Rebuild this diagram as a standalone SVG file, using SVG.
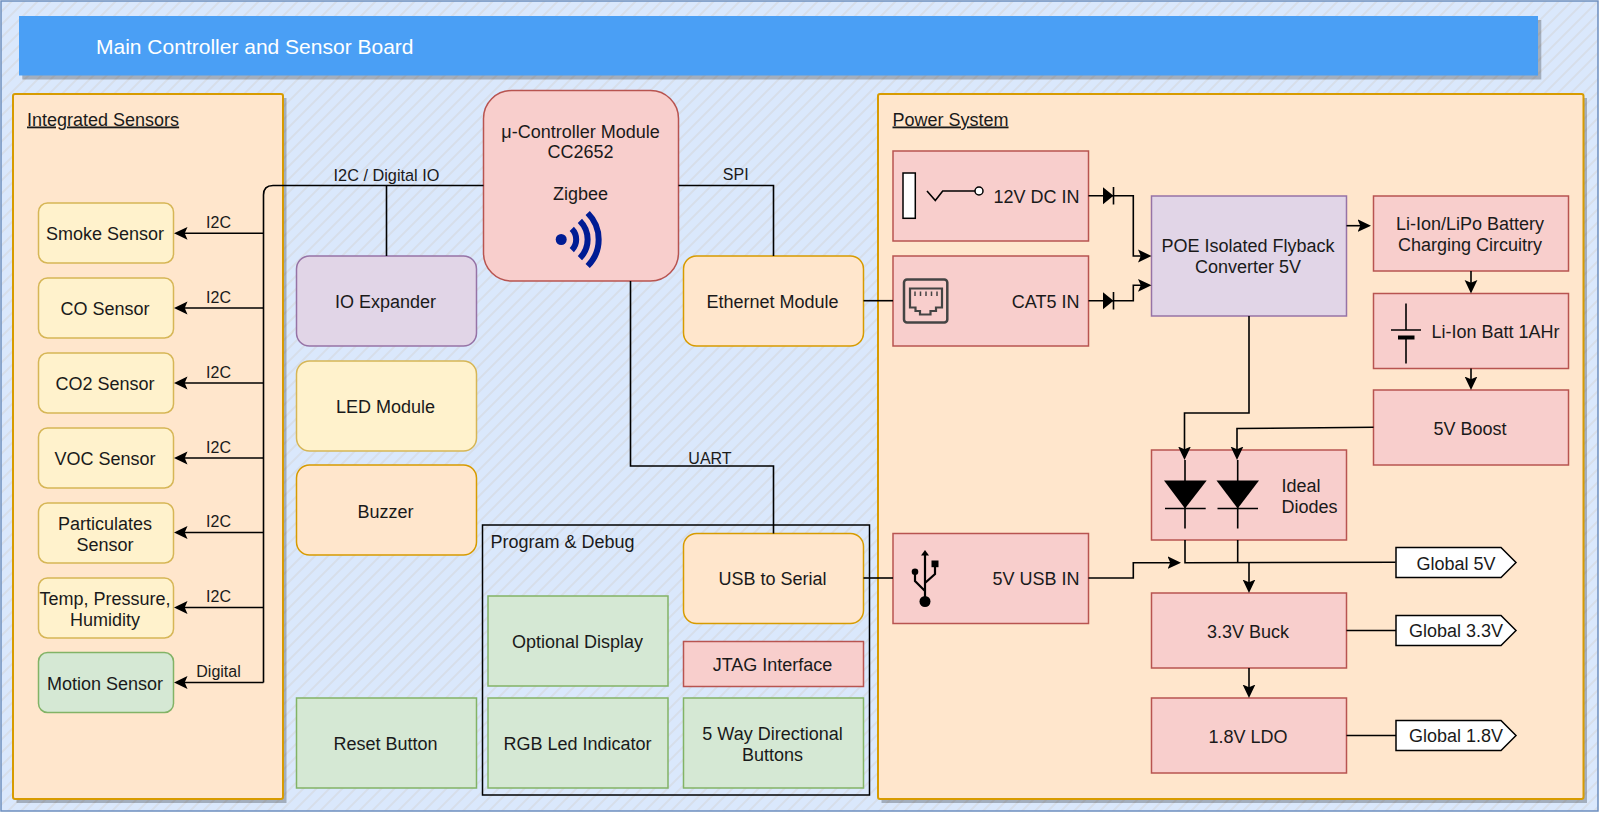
<svg xmlns="http://www.w3.org/2000/svg" width="1599" height="813" viewBox="0 0 1599 813">
<style>
text{font-family:"Liberation Sans",Arial,sans-serif;font-size:18px;fill:#1a1a1a;text-anchor:middle}
.s{font-size:16px}
.l{text-anchor:start}
.e{text-anchor:end}
.u{text-decoration:underline}
.shadow{fill:#000;opacity:.25}
.or{fill:#ffe6cc;stroke:#d79b00;stroke-width:1.5}
.ye{fill:#fff2cc;stroke:#d6b656;stroke-width:1.5}
.re{fill:#f8cecc;stroke:#b85450;stroke-width:1.5}
.pu{fill:#e1d5e7;stroke:#9673a6;stroke-width:1.5}
.gr{fill:#d5e8d4;stroke:#82b366;stroke-width:1.5}
.w{fill:none;stroke:#000;stroke-width:1.6}
.a{marker-end:url(#arrow)}
.ic{fill:#000;stroke:none}
</style>
<defs>
<pattern id="hatch" patternUnits="userSpaceOnUse" width="13" height="13">
<rect width="13" height="13" fill="#dae8fc"/>
<path d="M-2 2L2-2M-2 15L15-2M11 15L15 11" stroke="#d7dee9" stroke-width="1.800" fill="none"/>
</pattern>
<marker id="arrow" markerUnits="userSpaceOnUse" markerWidth="15" markerHeight="15" viewBox="0 0 15 15" refX="10.500" refY="7.500" orient="auto">
<path d="M13.500 7.500L0 1.100L2.800 7.500L0 13.900Z" fill="#000"/>
</marker>
<path id="diode" d="M0-8.500L10.500 0L0 8.500Z" fill="#000"/>
</defs>
<g id="background">
<rect x="1" y="1" width="1597" height="810" fill="url(#hatch)" stroke="#6c8ebf" stroke-width="1.500"/>
</g>
<g id="title">
<rect class="shadow" x="22.300" y="20" width="1519" height="59.500"/>
<rect x="19" y="16" width="1519" height="59.500" fill="#4a9ff5"/>
<text class="l" x="96" y="54" style="font-size:21px;fill:#fff">Main Controller and Sensor Board</text>
</g>
<g id="integrated-sensors">
<rect class="shadow" x="16.500" y="98" width="270" height="705"/>
<rect class="or" x="13" y="94" width="270" height="705" rx="2" style="stroke-width:2"/>
<text class="l u" x="27" y="125.500">Integrated Sensors</text>
</g>
<g id="power-system">
<rect class="shadow" x="881.500" y="98" width="705.500" height="705"/>
<rect class="or" x="878" y="94" width="705.500" height="705" rx="2" style="stroke-width:2"/>
<text class="l u" x="892.500" y="125.500">Power System</text>
</g>
<g id="smoke"><rect class="ye" x="38.500" y="203" width="135" height="60" rx="9"/><text x="105" y="240">Smoke Sensor</text></g>
<g id="co"><rect class="ye" x="38.500" y="278" width="135" height="60" rx="9"/><text x="105" y="315">CO Sensor</text></g>
<g id="co2"><rect class="ye" x="38.500" y="353" width="135" height="60" rx="9"/><text x="105" y="390">CO2 Sensor</text></g>
<g id="voc"><rect class="ye" x="38.500" y="428" width="135" height="60" rx="9"/><text x="105" y="465">VOC Sensor</text></g>
<g id="particulates"><rect class="ye" x="38.500" y="503" width="135" height="60" rx="9"/><text x="105" y="529.500">Particulates<tspan x="105" dy="21">Sensor</tspan></text></g>
<g id="temp"><rect class="ye" x="38.500" y="578" width="135" height="60" rx="9"/><text x="105" y="605">Temp, Pressure,<tspan x="105" dy="21">Humidity</tspan></text></g>
<g id="motion"><rect class="gr" x="38.500" y="652.500" width="135" height="60" rx="9"/><text x="105" y="689.500">Motion Sensor</text></g>
<g id="controller">
<rect class="re" x="483.500" y="90.500" width="195" height="190.500" rx="28"/>
<text x="580.500" y="137.500">μ-Controller Module<tspan x="580.500" dy="20.500">CC2652</tspan><tspan x="580.500" dy="41.500">Zigbee</tspan></text>
<circle cx="561.200" cy="239.500" r="5.500" fill="#001c94"/>
<path d="M571.800 228.900A15 15 0 0 1 571.800 250.100M579.900 220.800A26.500 26.500 0 0 1 579.900 258.200M587.700 213A37.500 37.500 0 0 1 587.700 266" fill="none" stroke="#001c94" stroke-width="6"/>
</g>
<g id="io-expander"><rect class="pu" x="296.500" y="256" width="180" height="90" rx="13"/><text x="385.500" y="308">IO Expander</text></g>
<g id="led-module"><rect class="ye" x="296.500" y="361" width="180" height="90" rx="13"/><text x="385.500" y="412.500">LED Module</text></g>
<g id="buzzer"><rect class="or" x="296.500" y="465" width="180" height="90" rx="13"/><text x="385.500" y="518">Buzzer</text></g>
<g id="reset"><rect class="gr" x="296.500" y="698" width="180" height="90"/><text x="385.500" y="750">Reset Button</text></g>
<g id="ethernet"><rect class="or" x="683.500" y="256" width="180" height="90" rx="13"/><text x="772.500" y="308">Ethernet Module</text></g>
<g id="program-debug">
<rect x="482.500" y="525" width="387" height="270" fill="none" stroke="#000" stroke-width="1.500"/>
<text class="l" x="490.500" y="547.500">Program &amp; Debug</text>
</g>
<g id="usb-serial"><rect class="or" x="683.500" y="533.500" width="180" height="90" rx="13"/><text x="772.500" y="584.500">USB to Serial</text></g>
<g id="display"><rect class="gr" x="488" y="596" width="180" height="90"/><text x="577.500" y="648">Optional Display</text></g>
<g id="jtag"><rect class="re" x="683.500" y="641.500" width="180" height="45"/><text x="772.500" y="671">JTAG Interface</text></g>
<g id="rgb"><rect class="gr" x="488" y="698" width="180" height="90"/><text x="577.500" y="750">RGB Led Indicator</text></g>
<g id="buttons"><rect class="gr" x="683.500" y="698" width="180" height="90"/><text x="772.500" y="740">5 Way Directional<tspan x="772.500" dy="21">Buttons</tspan></text></g>
<g id="dc-in">
<rect class="re" x="893" y="151" width="195.500" height="90"/>
<rect x="903" y="173" width="12.300" height="45.300" fill="#fff" stroke="#000" stroke-width="1.500"/>
<path class="w" d="M927 191L935.300 200.500L942.700 191H975"/>
<circle cx="979" cy="191" r="4" fill="#fff" stroke="#000" stroke-width="1.500"/>
<text class="e" x="1079.500" y="202.500">12V DC IN</text>
</g>
<g id="cat5-in">
<rect class="re" x="893" y="256" width="195.500" height="90"/>
<rect x="904" y="279.500" width="43.300" height="43" rx="3" fill="none" stroke="#444" stroke-width="2.500"/>
<path d="M910 288.500H942V307.500H936V311H930.500V314.500H920V311H915.500V307.500H910Z" fill="none" stroke="#444" stroke-width="2.200"/>
<path d="M915 291.500V296M920.500 291.500V296M926 291.500V296M931.500 291.500V296M937 291.500V296" fill="none" stroke="#444" stroke-width="1.500"/>
<text class="e" x="1079.500" y="307.500">CAT5 IN</text>
</g>
<g id="usb-in">
<rect class="re" x="893" y="533.500" width="195.500" height="90"/>
<circle class="ic" cx="925" cy="601.500" r="5.500"/>
<path class="ic" d="M925 550L929 555.500H921Z"/>
<circle class="ic" cx="915" cy="571.700" r="3.300"/>
<rect class="ic" x="931.500" y="560.500" width="7" height="6.700"/>
<path d="M925 554V601M915 572V581L925 591M935 566V574L925 583" fill="none" stroke="#000" stroke-width="2.200"/>
<text class="e" x="1079.500" y="584.500">5V USB IN</text>
</g>
<g id="poe"><rect class="pu" x="1151.500" y="196" width="195" height="120"/><text x="1248" y="252">POE Isolated Flyback<tspan x="1248" dy="21">Converter 5V</tspan></text></g>
<g id="charger"><rect class="re" x="1373.500" y="196" width="195" height="75"/><text x="1470" y="230">Li-Ion/LiPo Battery<tspan x="1470" dy="21">Charging Circuitry</tspan></text></g>
<g id="battery">
<rect class="re" x="1373.500" y="293.500" width="195" height="75"/>
<path class="w" d="M1406 303.500V330M1391 330H1421M1406 339V363.500"/>
<rect class="ic" x="1398" y="335.500" width="16.500" height="4"/>
<text class="l" x="1431.500" y="337.500">Li-Ion Batt 1AHr</text>
</g>
<g id="boost"><rect class="re" x="1373.500" y="390" width="195" height="75"/><text x="1470" y="434.500">5V Boost</text></g>
<g id="ideal-diodes">
<rect class="re" x="1151.500" y="450" width="195" height="90"/>
<path class="ic" d="M1164 480.500H1206.700L1185 508.500Z"/>
<path class="ic" d="M1216.500 480.500H1259L1237.700 508.500Z"/>
<path class="w" d="M1185 460V528.500M1165 508.500H1205.700M1237.700 460V528.500M1217.500 508.500H1258"/>
<text class="l" x="1281.500" y="492">Ideal<tspan x="1281.500" dy="21">Diodes</tspan></text>
</g>
<g id="buck"><rect class="re" x="1151.500" y="593" width="195" height="75"/><text x="1248" y="638">3.3V Buck</text></g>
<g id="ldo"><rect class="re" x="1151.500" y="698" width="195" height="75"/><text x="1248" y="743">1.8V LDO</text></g>
<g id="global-5v"><path d="M1396 547.500H1501L1516 562.500L1501 577.500H1396Z" fill="#fff" stroke="#000" stroke-width="1.500"/><text x="1456" y="570">Global 5V</text></g>
<g id="global-33v"><path d="M1396 615.500H1501L1516 630.500L1501 645.500H1396Z" fill="#fff" stroke="#000" stroke-width="1.500"/><text x="1456" y="637">Global 3.3V</text></g>
<g id="global-18v"><path d="M1396 720.500H1501L1516 735.500L1501 750.500H1396Z" fill="#fff" stroke="#000" stroke-width="1.500"/><text x="1456" y="742">Global 1.8V</text></g>
<g id="connectors">
<path class="w" d="M483.500 185.500H273Q263.500 185.500 263.500 195V682.500"/>
<path class="w a" d="M263.500 233.300H177"/>
<path class="w a" d="M263.500 308H177"/>
<path class="w a" d="M263.500 383H177"/>
<path class="w a" d="M263.500 458H177"/>
<path class="w a" d="M263.500 532.500H177"/>
<path class="w a" d="M263.500 607.500H177"/>
<path class="w a" d="M263.500 682.500H177"/>
<path class="w" d="M386.500 185.500V256"/>
<path class="w" d="M678.500 185.500H773.500V256"/>
<path class="w" d="M630.500 281V466H773.500V533.500"/>
<path class="w" d="M863.500 300.700H893"/>
<path class="w" d="M863.500 578H893"/>
<path class="w a" d="M1088.500 195.700H1133.300V256H1148.500"/>
<path class="w a" d="M1088.500 300.700H1133.300V285.300H1148.500"/>
<use href="#diode" x="1103" y="195.700"/>
<use href="#diode" x="1103" y="300.700"/>
<path class="w" d="M1113.500 187V204.500M1113.500 292V309.500"/>
<path class="w a" d="M1346.500 225.700H1368"/>
<path class="w a" d="M1471 271V290.500"/>
<path class="w a" d="M1471 368.500V387"/>
<path class="w a" d="M1249 316V413H1184.500V457"/>
<path class="w a" d="M1373.500 427.300L1237 428.500V457"/>
<path class="w" d="M1185 540V562.700L1395.500 562.300"/>
<path class="w" d="M1237.700 540V562.700"/>
<path class="w a" d="M1249 562.700V590"/>
<path class="w a" d="M1088.500 578H1133.300V562.700H1178"/>
<path class="w" d="M1346.500 630.500H1396"/>
<path class="w" d="M1346.500 735.500H1396"/>
<path class="w a" d="M1249 668V695"/>
</g>
<g id="connector-labels">
<text class="s" x="386.500" y="180.500" style="font-size:16.300px">I2C / Digital IO</text>
<text class="s" x="735.700" y="180">SPI</text>
<text class="s" x="710" y="464">UART</text>
<text class="s" x="218.500" y="228">I2C</text>
<text class="s" x="218.500" y="303">I2C</text>
<text class="s" x="218.500" y="378">I2C</text>
<text class="s" x="218.500" y="452.500">I2C</text>
<text class="s" x="218.500" y="527">I2C</text>
<text class="s" x="218.500" y="602">I2C</text>
<text class="s" x="218.500" y="677">Digital</text>
</g>
</svg>
